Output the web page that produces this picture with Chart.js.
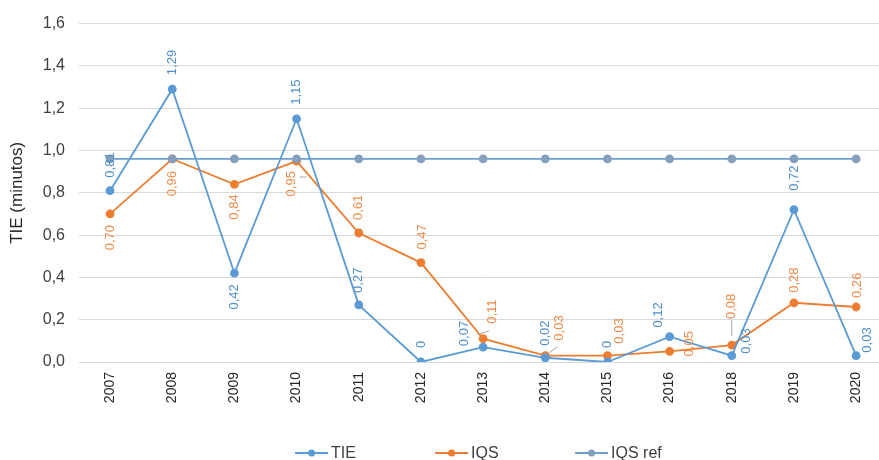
<!DOCTYPE html>
<html>
<head>
<meta charset="utf-8">
<script src="https://cdn.jsdelivr.net/npm/chart.js@4.4.1/dist/chart.umd.min.js"></script>
<style>
  html, body { margin: 0; padding: 0; background: #ffffff; overflow: hidden; }
  #wrap { width: 879px; height: 460px; overflow: hidden; position: relative; }
  #box { width: 893px; height: 460px; position: absolute; left: 0; top: 0; }
</style>
</head>
<body>
<div id="wrap"><div id="box"><canvas id="chart"></canvas></div></div>
<script>
// Years on the category axis (2017 is not reported)
const years = ['2007', '2008', '2009', '2010', '2011', '2012', '2013', '2014', '2015', '2016', '2018', '2019', '2020'];
// TIE in minutes per year
const tie = [0.81, 1.29, 0.42, 1.15, 0.27, 0, 0.07, 0.02, 0, 0.12, 0.03, 0.72, 0.03];
// IQS in minutes per year
const iqs = [0.70, 0.96, 0.84, 0.95, 0.61, 0.47, 0.11, 0.03, 0.03, 0.05, 0.08, 0.28, 0.26];
// IQS reference level
const iqsRef = [0.96, 0.96, 0.96, 0.96, 0.96, 0.96, 0.96, 0.96, 0.96, 0.96, 0.96, 0.96, 0.96];
// Value axis ticks
const yTicks = [0, 0.2, 0.4, 0.6, 0.8, 1.0, 1.2, 1.4, 1.6];

const FONT = "'Liberation Sans', Arial, sans-serif";
const BLUE = '#5b9bd5';
const ORANGE = '#ed7d31';
const REF_LINE = '#6b9fd3';
const REF_POINT = '#859fbd';

// Placement of the rotated value labels: dir 'up' = text grows upward from the anchor,
// 'down' = text grows downward; dx/dy offset the anchor from the point; lead = leader line.
const tiePlace = [
  { dir: 'up', dx: 0, dy: -13 },
  { dir: 'up', dx: 0, dy: -14 },
  { dir: 'down', dx: 0, dy: 11 },
  { dir: 'up', dx: 0, dy: -14 },
  { dir: 'up', dx: 0, dy: -12 },
  { dir: 'up', dx: 0, dy: -14 },
  { dir: 'up', dx: -19, dy: -1 },
  { dir: 'up', dx: 0, dy: -12 },
  { dir: 'up', dx: 0, dy: -14 },
  { dir: 'up', dx: -11, dy: -9 },
  { dir: 'up', dx: 15, dy: -2 },
  { dir: 'up', dx: 0, dy: -19 },
  { dir: 'up', dx: 11, dy: -3 }
];
const iqsPlace = [
  { dir: 'down', dx: 0, dy: 11 },
  { dir: 'down', dx: 0, dy: 12 },
  { dir: 'down', dx: 0, dy: 10 },
  { dir: 'down', dx: -5, dy: 10, lead: [3, 16, 10, 16] },
  { dir: 'up', dx: 0, dy: -13 },
  { dir: 'up', dx: 1, dy: -13 },
  { dir: 'up', dx: 9, dy: -15, lead: [-6, -4, 6, -8] },
  { dir: 'up', dx: 14, dy: -15, lead: [4, -3, 12, -9] },
  { dir: 'up', dx: 12, dy: -12 },
  { dir: 'up', dx: 20, dy: 5 },
  { dir: 'up', dx: 0, dy: -26, lead: [0, -25, 0, -9] },
  { dir: 'up', dx: 0, dy: -10 },
  { dir: 'up', dx: 1, dy: -9 }
];

function fmt(v) {
  return v === 0 ? '0' : v.toFixed(2).replace('.', ',');
}

const valueLabels = {
  id: 'valueLabels',
  afterDatasetsDraw(chart) {
    const ctx = chart.ctx;
    const sets = [
      { index: 0, values: tie, place: tiePlace, color: '#4f8fcc' },
      { index: 1, values: iqs, place: iqsPlace, color: '#ef8a47' }
    ];
    ctx.save();
    ctx.font = '13px ' + FONT;
    ctx.textBaseline = 'middle';
    sets.forEach(s => {
      const meta = chart.getDatasetMeta(s.index);
      meta.data.forEach((pt, i) => {
        const p = s.place[i];
        if (p.lead) {
          ctx.strokeStyle = '#a6a6a6';
          ctx.lineWidth = 1;
          ctx.beginPath();
          ctx.moveTo(pt.x + p.lead[0], pt.y + p.lead[1]);
          ctx.lineTo(pt.x + p.lead[2], pt.y + p.lead[3]);
          ctx.stroke();
        }
        ctx.save();
        ctx.translate(pt.x + p.dx, pt.y + p.dy);
        ctx.rotate(-Math.PI / 2);
        ctx.fillStyle = s.color;
        ctx.textAlign = p.dir === 'up' ? 'left' : 'right';
        ctx.fillText(fmt(s.values[i]), 0, 0);
        ctx.restore();
      });
    });
    ctx.restore();
  }
};

const bottomLegend = {
  id: 'bottomLegend',
  afterDraw(chart) {
    const ctx = chart.ctx;
    const area = chart.chartArea;
    const items = chart.data.datasets;
    const step = 140;
    const start = (area.left + area.right) / 2 - 188;
    const y = 453;
    ctx.save();
    ctx.font = '16px ' + FONT;
    ctx.textBaseline = 'middle';
    ctx.textAlign = 'left';
    items.forEach((ds, i) => {
      const x = start + i * step;
      ctx.strokeStyle = ds.borderColor;
      ctx.lineWidth = 1.8;
      ctx.beginPath();
      ctx.moveTo(x, y);
      ctx.lineTo(x + 33, y);
      ctx.stroke();
      ctx.fillStyle = ds.pointBackgroundColor;
      ctx.beginPath();
      ctx.arc(x + 16.5, y, 3.5, 0, Math.PI * 2);
      ctx.fill();
      ctx.fillStyle = '#404040';
      ctx.fillText(ds.label, x + 36, y + 1);
    });
    ctx.restore();
  }
};

new Chart(document.getElementById('chart'), {
  type: 'line',
  data: {
    labels: years,
    datasets: [
      {
        label: 'TIE', data: tie, borderColor: BLUE, backgroundColor: BLUE,
        pointBackgroundColor: BLUE, pointBorderColor: BLUE,
        borderWidth: 1.8, pointRadius: 3.5, tension: 0, order: 1
      },
      {
        label: 'IQS', data: iqs, borderColor: ORANGE, backgroundColor: ORANGE,
        pointBackgroundColor: ORANGE, pointBorderColor: ORANGE,
        borderWidth: 1.8, pointRadius: 3.5, tension: 0, order: 2
      },
      {
        label: 'IQS ref', data: iqsRef, borderColor: REF_LINE, backgroundColor: REF_POINT,
        pointBackgroundColor: REF_POINT, pointBorderColor: REF_POINT,
        borderWidth: 1.8, pointRadius: 3.5, tension: 0, order: 0
      }
    ]
  },
  options: {
    responsive: true,
    maintainAspectRatio: false,
    animation: false,
    layout: { padding: { top: 20, right: 1, bottom: 40, left: 0 } },
    plugins: {
      legend: { display: false },
      tooltip: { enabled: false }
    },
    scales: {
      x: {
        type: 'category',
        offset: true,
        grid: { display: false, drawTicks: false },
        border: { display: false },
        ticks: {
          autoSkip: false, minRotation: 90, maxRotation: 90, padding: 10,
          color: '#262626', font: { family: FONT, size: 14 }
        },
        afterFit(scale) { scale.height = 58; }
      },
      y: {
        min: 0, max: 1.6,
        afterBuildTicks(scale) { scale.ticks = yTicks.map(v => ({ value: v })); },
        grid: { color: '#d9d9d9', lineWidth: 1, drawTicks: false },
        border: { display: false },
        ticks: {
          padding: 14,
          color: '#404040',
          font: { family: FONT, size: 16 },
          callback: v => v.toFixed(1).replace('.', ',')
        },
        title: {
          display: true, text: 'TIE (minutos)', color: '#262626',
          font: { family: FONT, size: 17 }, padding: { top: 7, bottom: 0 }
        },
        afterFit(scale) { scale.width = 79; }
      }
    }
  },
  plugins: [valueLabels, bottomLegend]
});
</script>
</body>
</html>
